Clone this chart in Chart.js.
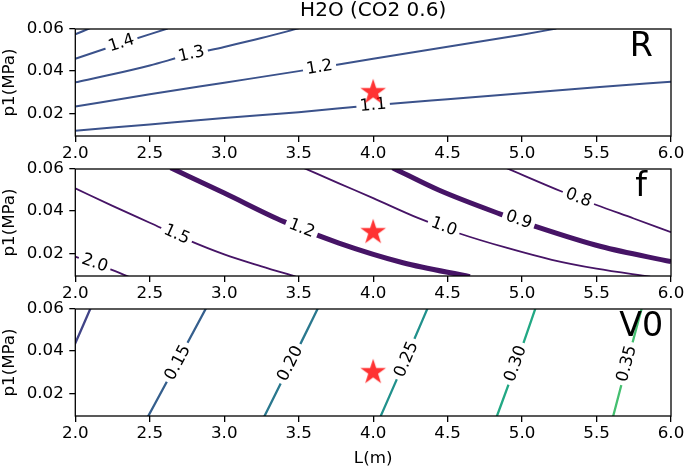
<!DOCTYPE html>
<html>
<head>
<meta charset="utf-8">
<script src="https://cdn.jsdelivr.net/npm/chart.js@4.4.0/dist/chart.umd.min.js"></script>
<style>
  body { margin: 0; background: #fff; }
  #wrap { position: relative; width: 685px; height: 469px; }
  #wrap canvas { position: absolute; left: 0; top: 0; }
</style>
</head>
<body>
<div id="wrap">
  <canvas id="cR" width="685" height="469"></canvas>
  <canvas id="cF" width="685" height="469"></canvas>
  <canvas id="cV" width="685" height="469"></canvas>
</div>
<script>
// ---- datos (L en m, p1 en MPa) ----
const lTicks = [2.0, 2.5, 3.0, 3.5, 4.0, 4.5, 5.0, 5.5, 6.0];
const pTicks = [0.02, 0.04, 0.06];
const lRange = [2.0, 6.0];
const pRange = [0.0092, 0.06];
const punto = [[4.0, 0.03]];

// R
const rLevels = ['1.5', '1.4', '1.3', '1.2', '1.1'];
const rLines = [
  [[2.0, 0.0575], [2.1, 0.0604]],
  [[2.0, 0.0459], [2.3, 0.0530], [2.62, 0.0602]],
  [[2.0, 0.0347], [2.25, 0.0385], [2.5, 0.0427], [2.75, 0.0475], [3.0, 0.0515], [3.25, 0.0557], [3.5, 0.0603]],
  [[2.0, 0.0232], [2.5, 0.0290], [3.0, 0.0345], [3.5, 0.0400], [4.0, 0.0459], [4.5, 0.0516], [5.0, 0.0573], [5.23, 0.0602]],
  [[2.0, 0.0117], [2.5, 0.0147], [3.0, 0.0177], [3.5, 0.0205], [4.0, 0.0238], [4.5, 0.0267], [5.0, 0.0295], [5.5, 0.0323], [6.0, 0.0350]]
];
const rLabelPos = [null, [2.31, 0.0532], [2.78, 0.0480], [3.64, 0.0417], [4.0, 0.0237]];

// f
const fLevels = ['2.0', '1.5', '1.2', '1.0', '0.9', '0.8'];
const fLines = [
  [[2.0, 0.0184], [2.13, 0.0152], [2.25, 0.0120], [2.36, 0.0088]],
  [[2.0, 0.0508], [2.25, 0.0425], [2.5, 0.0345], [2.75, 0.0265], [3.0, 0.0195], [3.25, 0.0138], [3.48, 0.0089]],
  [[2.64, 0.0606], [3.0, 0.0486], [3.4, 0.0350], [3.77, 0.0248], [4.2, 0.0155], [4.65, 0.0089]],
  [[3.53, 0.0606], [3.77, 0.0532], [4.0, 0.0462], [4.3, 0.0368], [4.575, 0.0295], [4.9, 0.0225], [5.2, 0.0169], [5.5, 0.0127], [5.86, 0.0089]],
  [[4.13, 0.0606], [4.44, 0.0500], [4.85, 0.0387], [5.08, 0.0330], [5.53, 0.0232], [6.0, 0.0160]],
  [[4.89, 0.0606], [5.27, 0.0492], [5.5, 0.0429], [5.75, 0.0365], [6.0, 0.0300]]
];
const fLabelPos = [[2.13, 0.0152], [2.68, 0.0288], [3.52, 0.0317], [4.475, 0.0325], [4.977, 0.0358], [5.378, 0.0462]];

// V0
const vLevels = ['0.10', '0.15', '0.20', '0.25', '0.30', '0.35'];
const vLines = [
  [[1.99, 0.0421], [2.11, 0.0616]],
  [[2.484, 0.0084], [2.62, 0.0262], [2.75, 0.0435], [2.881, 0.0608]],
  [[3.265, 0.0084], [3.39, 0.0262], [3.51, 0.0432], [3.632, 0.0608]],
  [[4.046, 0.0084], [4.155, 0.0260], [4.26, 0.0430], [4.368, 0.0608]],
  [[4.827, 0.0084], [4.92, 0.0262], [5.005, 0.0430], [5.092, 0.0608]],
  [[5.609, 0.0084], [5.675, 0.0262], [5.738, 0.0430], [5.805, 0.0608]]
];
const vLabelPos = [null, [2.69, 0.0345], [3.445, 0.0340], [4.225, 0.0360], [4.958, 0.0340], [5.705, 0.0340]];

// ---- estilo ----
const FUENTE = "'DejaVu Sans', sans-serif";
const ALTO = 107;          // alto de cada panel
const ANCHO_Y = 75.3;      // eje y
const DERECHA = 12.3;
const gruesas = ['1.2', '0.9'];
const coloresV = ['#414487', '#355f8d', '#2a788e', '#21918c', '#22a884', '#44bf70'];

Chart.defaults.font.family = FUENTE;
Chart.defaults.font.size = 16.7;
Chart.defaults.color = '#000';

function hacerEstrella() {
  const c = document.createElement('canvas');
  c.width = 30; c.height = 30;
  const g = c.getContext('2d');
  g.beginPath();
  for (let i = 0; i < 10; i++) {
    const r = i % 2 ? 5.2 : 13.5;
    const a = -Math.PI / 2 + i * Math.PI / 5;
    const px = 15 + r * Math.cos(a), py = 15 + r * Math.sin(a);
    if (i) g.lineTo(px, py); else g.moveTo(px, py);
  }
  g.closePath();
  g.fillStyle = 'rgba(255,0,0,0.8)';
  g.fill();
  return c;
}
const estrella = hacerEstrella();

// angulo de la linea cerca de la etiqueta (en pixeles)
function anguloLinea(chart, data, cx, cy) {
  const xs = chart.scales.x, ys = chart.scales.y;
  let mejor = 0, dmin = Infinity;
  for (let k = 0; k < data.length - 1; k++) {
    const ax = xs.getPixelForValue(data[k].x), ay = ys.getPixelForValue(data[k].y);
    const bx = xs.getPixelForValue(data[k + 1].x), by = ys.getPixelForValue(data[k + 1].y);
    const dx = bx - ax, dy = by - ay;
    let t = ((cx - ax) * dx + (cy - ay) * dy) / (dx * dx + dy * dy);
    t = Math.max(0, Math.min(1, t));
    const d = Math.hypot(ax + t * dx - cx, ay + t * dy - cy);
    if (d < dmin) { dmin = d; mejor = Math.atan2(dy, dx); }
  }
  if (mejor > Math.PI / 2) mejor -= Math.PI;
  if (mejor < -Math.PI / 2) mejor += Math.PI;
  return mejor;
}

function geomEtiqueta(chart, ds) {
  const [L, p, txt] = ds.etiqueta;
  const cx = chart.scales.x.getPixelForValue(L);
  const cy = chart.scales.y.getPixelForValue(p);
  const ang = anguloLinea(chart, ds.data, cx, cy);
  chart.ctx.font = '16.7px ' + FUENTE;
  const w = chart.ctx.measureText(txt).width;
  return { cx, cy, ang, w, txt };
}

function pluginPanel(nombre, titulo) {
  return {
    id: 'panel',
    beforeDatasetDraw(chart, args) {
      const ctx = chart.ctx;
      const ds = chart.data.datasets[args.index];
      if (args.index === 0) {
        // textos de las curvas, antes de la estrella
        chart.data.datasets.forEach(d => {
          if (!d.etiqueta) return;
          const e = geomEtiqueta(chart, d);
          ctx.save();
          ctx.translate(e.cx, e.cy);
          ctx.rotate(e.ang);
          ctx.font = '16.7px ' + FUENTE;
          ctx.fillStyle = '#000';
          ctx.textAlign = 'center';
          ctx.textBaseline = 'middle';
          ctx.fillText(e.txt, 0, 0);
          ctx.restore();
        });
        return;
      }
      if (!ds.etiqueta) return;
      const e = geomEtiqueta(chart, ds);
      const c = Math.cos(e.ang), s = Math.sin(e.ang);
      const hw = e.w / 2 + 3.5, hh = 10;
      const esq = [[-hw, -hh], [hw, -hh], [hw, hh], [-hw, hh]]
        .map(([u, v]) => [e.cx + u * c - v * s, e.cy + u * s + v * c]);
      ctx.save();
      ctx.beginPath();
      ctx.rect(0, 0, chart.width, chart.height);
      ctx.moveTo(esq[0][0], esq[0][1]);
      for (let k = 1; k < 4; k++) ctx.lineTo(esq[k][0], esq[k][1]);
      ctx.closePath();
      ctx.clip('evenodd');
      ds._recorte = true;
    },
    afterDatasetDraw(chart, args) {
      const ds = chart.data.datasets[args.index];
      if (ds._recorte) { chart.ctx.restore(); ds._recorte = false; }
    },
    afterDatasetsDraw(chart) {
      const a = chart.chartArea, ctx = chart.ctx;
      ctx.save();
      ctx.strokeStyle = '#000';
      ctx.lineWidth = 1.3;
      ctx.strokeRect(a.left, a.top, a.right - a.left, a.bottom - a.top);
      ctx.restore();
    },
    afterDraw(chart) {
      const a = chart.chartArea, ctx = chart.ctx;
      ctx.save();
      ctx.fillStyle = '#000';
      ctx.textAlign = 'center';
      ctx.textBaseline = 'alphabetic';
      ctx.font = '33.3px ' + FUENTE;
      ctx.fillText(nombre, a.left + 0.95 * (a.right - a.left), a.top + 27);
      if (titulo) {
        ctx.font = '20px ' + FUENTE;
        ctx.fillText(titulo, (a.left + a.right) / 2, 16);
      }
      ctx.restore();
    }
  };
}

function panel(id, top, nombre, niveles, lineas, posEtiq, colorDe, anchoDe, conTituloX, titulo) {
  const datasets = [{
    data: punto.map(([x, y]) => ({ x, y })),
    showLine: false, pointStyle: estrella, pointRadius: 13
  }];
  lineas.forEach((ln, i) => {
    datasets.push({
      data: ln.map(([x, y]) => ({ x, y })),
      showLine: true,
      borderColor: colorDe(i),
      borderWidth: anchoDe(niveles[i]),
      pointRadius: 0,
      cubicInterpolationMode: 'monotone',
      clip: 0,
      etiqueta: posEtiq[i] ? [posEtiq[i][0], posEtiq[i][1], niveles[i]] : null
    });
  });
  const altoX = conTituloX ? 469 - top - ALTO : 30;
  new Chart(document.getElementById(id), {
    type: 'line',
    data: { datasets },
    options: {
      responsive: false,
      animation: false,
      events: [],
      layout: { padding: { left: 0, top: top, right: DERECHA, bottom: 469 - top - ALTO - altoX } },
      plugins: { legend: { display: false }, tooltip: { enabled: false } },
      scales: {
        x: {
          type: 'linear', min: lRange[0], max: lRange[1],
          afterBuildTicks: s => { s.ticks = lTicks.map(v => ({ value: v })); },
          ticks: { callback: v => v.toFixed(1), padding: 2, maxRotation: 0, autoSkip: false },
          grid: { drawOnChartArea: false, tickLength: 6, color: '#000', lineWidth: 1.3 },
          border: { display: false },
          title: { display: conTituloX, text: 'L(m)', padding: 0 },
          afterFit: s => { s.height = altoX; s.paddingLeft = 0; s.paddingRight = 0; }
        },
        y: {
          type: 'linear', min: pRange[0], max: pRange[1],
          afterBuildTicks: s => { s.ticks = pTicks.map(v => ({ value: v })); },
          ticks: { callback: v => v.toFixed(2), padding: 5.5 },
          grid: { drawOnChartArea: false, tickLength: 6, color: '#000', lineWidth: 1.3 },
          border: { display: false },
          title: { display: true, text: 'p1(MPa)', padding: 0 },
          afterFit: s => { s.width = ANCHO_Y; s.paddingTop = 0; s.paddingBottom = 0; }
        }
      }
    },
    plugins: [pluginPanel(nombre, titulo)]
  });
}

panel('cR', 29, 'R', rLevels, rLines, rLabelPos, () => '#3b528b', () => 2, false, 'H2O (CO2 0.6)');
panel('cF', 169, 'f', fLevels, fLines, fLabelPos, () => '#461466', n => gruesas.includes(n) ? 5 : 1.8, false, null);
panel('cV', 309, 'V0', vLevels, vLines, vLabelPos, i => coloresV[i], () => 2.3, true, null);
</script>
</body>
</html>
